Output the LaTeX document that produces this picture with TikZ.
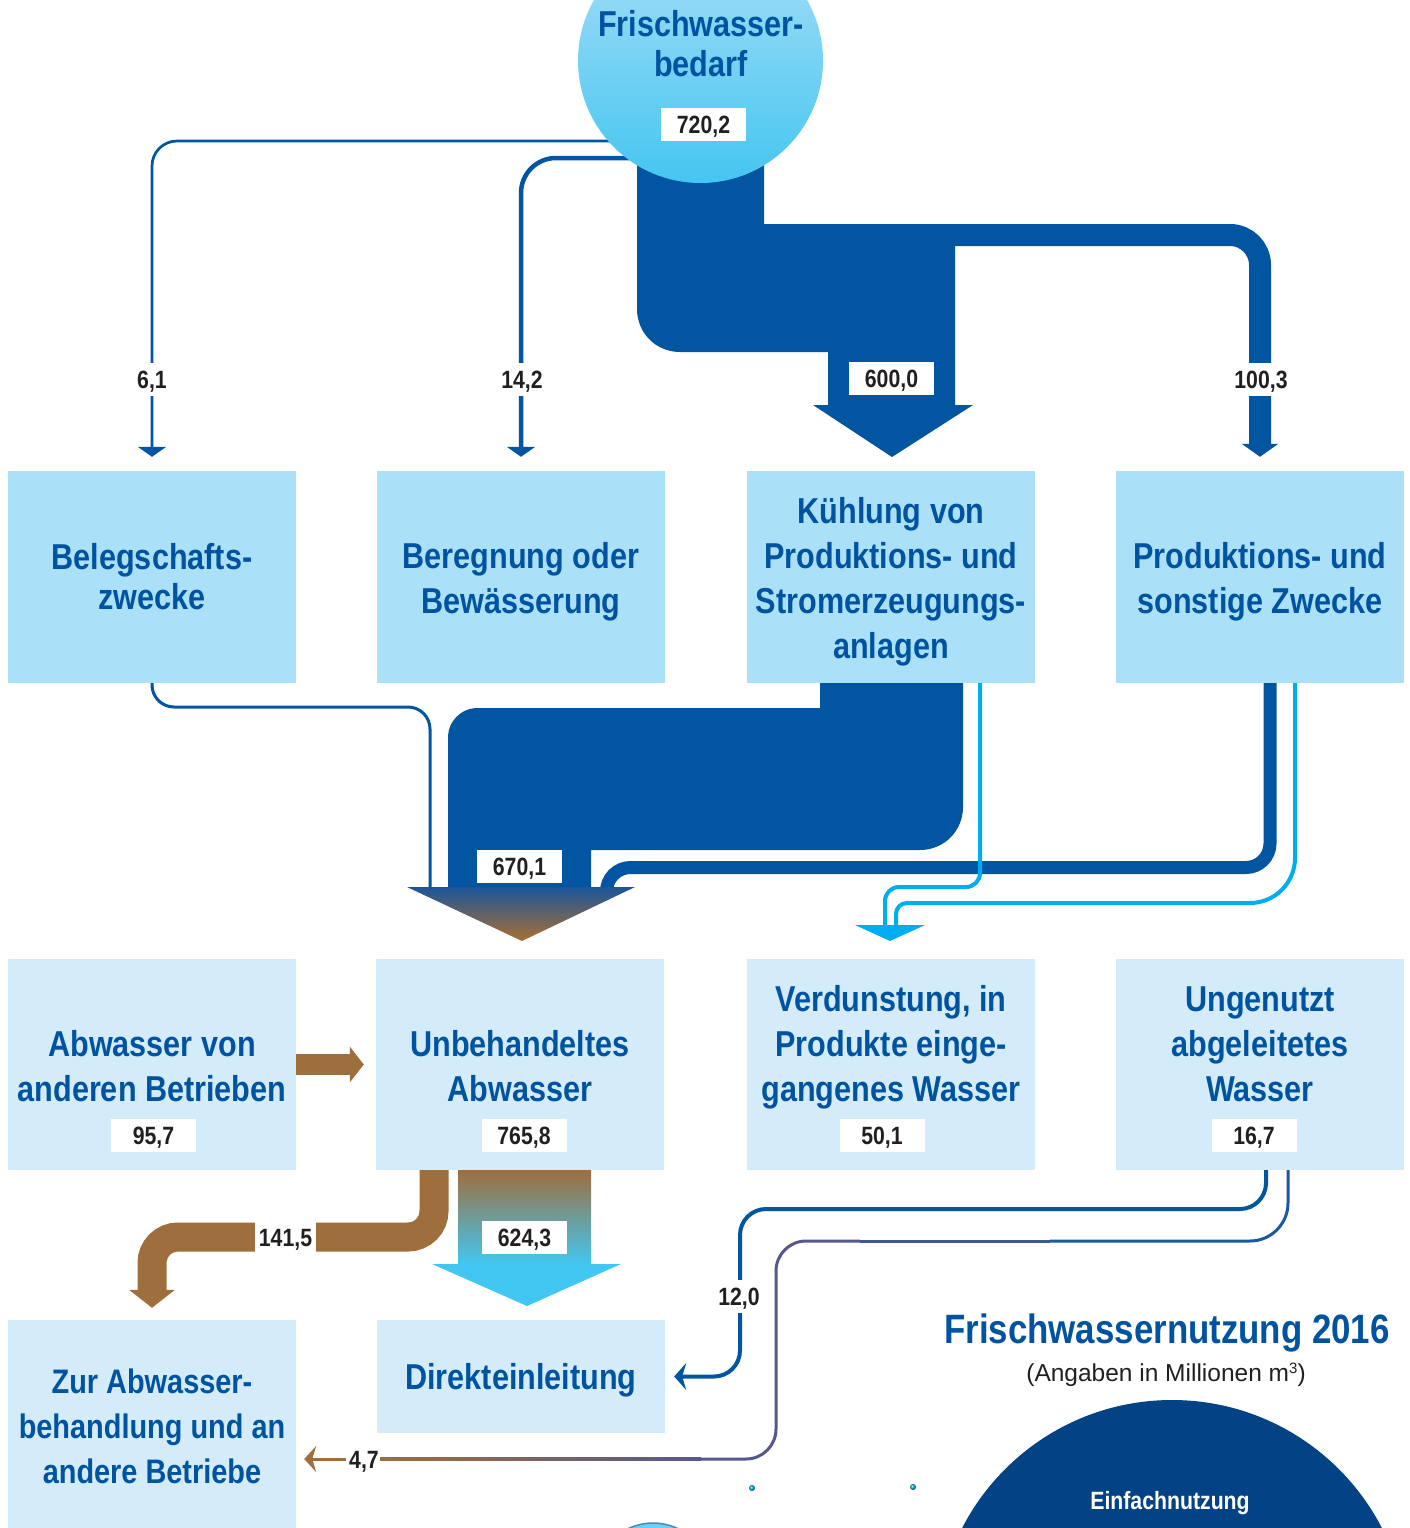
\documentclass[tikz,border=0pt]{standalone}
\usepackage{fontspec}
\setmainfont{Liberation Sans}
\newfontfamily\condf{Liberation Sans}[FakeStretch=0.85]
\usetikzlibrary{arrows.meta,calc}
\definecolor{flowblue}{HTML}{0255A0}
\definecolor{txtblue}{HTML}{0053A0}
\definecolor{boxAc}{HTML}{ABE0F9}
\definecolor{boxBc}{HTML}{D4ECFA}
\definecolor{brownf}{HTML}{9E6E3C}
\definecolor{cyanl}{HTML}{00AEEF}
\definecolor{cyanf}{HTML}{42C7F2}
\definecolor{circtop}{HTML}{A8DEF7}
\definecolor{circbot}{HTML}{44C6F0}
\definecolor{numblack}{HTML}{231F20}
\definecolor{darkcirc}{HTML}{034284}
\definecolor{slatea}{HTML}{1A58A0}
\definecolor{slateb}{HTML}{3E5896}
\definecolor{slatec}{HTML}{57588A}
\definecolor{headtop}{HTML}{1B5599}
\definecolor{headbot}{HTML}{A87034}
\tikzset{
  boxa/.style={fill=boxAc, inner sep=0pt, minimum width=288pt, minimum height=212pt},
  boxb/.style={fill=boxBc, inner sep=0pt, minimum width=288pt, minimum height=211pt},
  btxt/.style={text=txtblue, font=\condf\bfseries\fontsize{36}{45}\selectfont, anchor=base, inner sep=0pt},
  stxt/.style={btxt, font=\condf\bfseries\fontsize{34}{45}\selectfont},
  numtxt/.style={text=numblack, font=\condf\bfseries\fontsize{25}{30}\selectfont, text height=18pt, text depth=0pt},
  valbox/.style={numtxt, fill=white, inner sep=0pt, minimum width=85pt, minimum height=33pt},
  linelbl/.style={numtxt, fill=white, inner xsep=3pt, inner ysep=7.5pt},
}
\begin{document}
\begin{tikzpicture}[x=1pt,y=-1pt]
\useasboundingbox (0,0) rectangle (1410,1528);
\fill[white] (0,0) rectangle (1410,1528);
\clip (0,0) rectangle (1410,1528);

% ---------- boxes ----------
\node[boxa] (beleg)  at (152,577) {};
\node[boxa] (beregn) at (521,577) {};
\node[boxa] (kuehl)  at (891,577) {};
\node[boxa] (prod)   at (1260,577) {};
\node[boxb] (abw)    at (152,1064.5) {};
\node[boxb] (unbeh)  at (520,1064.5) {};
\node[boxb] (verd)   at (891,1064.5) {};
\node[boxb] (unge)   at (1260,1064.5) {};
\node[fill=boxBc, inner sep=0pt, minimum width=288pt, minimum height=230pt] (zur) at (152,1435) {};
\node[fill=boxBc, inner sep=0pt, minimum width=288pt, minimum height=113pt] (direkt) at (521,1376.5) {};

% ---------- flows from the source ----------
\coordinate (s61) at (650,141);
\coordinate (s142) at (650,158);
\draw[flowblue, line width=2.7pt, rounded corners=25pt, -{Triangle[width=28pt,length=10pt]}, shorten >=14pt] (s61) -| (beleg.north);
\draw[flowblue, line width=4.5pt, rounded corners=35pt, -{Triangle[width=28pt,length=10pt]}, shorten >=14pt] (s142) -| (beregn.north);
\draw[flowblue, line width=22pt, rounded corners=30pt, -{Triangle[width=36pt,length=13pt]}, shorten >=14pt] (900,235) -| (prod.north);
\fill[flowblue] (637,150) -- (764,150) -- (764,224) -- (955,224) -- (955,405) -- (973,405) -- (892,457) -- (813,405) -- (828,405) -- (828,352) -- (680,352) .. controls (656,352) and (637,333) .. (637,309) -- cycle;

% ---------- source circle ----------
\node[circle, minimum size=245pt, inner sep=0pt, top color=circtop, bottom color=circbot, draw=none] (bedarf) at (700.5,60.5) {};
\node[btxt] at (701,37) {Frischwasser-};
\node[btxt] at (701,77) {bedarf};
\node[valbox] (v720) at (703.5,124.5) {720,2};

\node[linelbl] (l61) at (152,379) {6,1};
\node[linelbl] (l142) at (522,379) {14,2};
\node[linelbl] (l1003) at (1261,379) {100,3};
\node[valbox] (v600) at (891.5,378.5) {600,0};

% ---------- row 1 texts ----------
\node[btxt] at (152,569) {Belegschafts-};
\node[btxt] at (152,609) {zwecke};
\node[btxt] at (521,568) {Beregnung oder};
\node[btxt] at (521,613) {Bewässerung};
\node[btxt] at (891,523) {Kühlung von};
\node[btxt] at (891,568) {Produktions- und};
\node[btxt] at (891,613) {Stromerzeugungs-};
\node[btxt] at (891,658) {anlagen};
\node[btxt] at (1260,568) {Produktions- und};
\node[btxt] at (1260,613) {sonstige Zwecke};

% ---------- return flows ----------
\draw[flowblue, line width=3pt, rounded corners=22pt] (beleg.south) |- (430,707) -- (430,887);
\fill[flowblue] (820,683) -- (963,683) -- (963,807) .. controls (963,831) and (944,850) .. (920,850) -- (591,850) -- (591,887) -- (448,887) -- (448,738) .. controls (448,721) and (461,708) .. (478,708) -- (820,708) -- cycle;
\draw[flowblue, line width=13pt, rounded corners=24pt] ($(prod.south)+(10,0)$) |- (606.5,867.5) -- (606.5,887);
\draw[cyanl, line width=4pt, rounded corners=14pt] ($(kuehl.south)+(89,0)$) -- (980,887) -- (885,887) -- (885,926);
\draw[cyanl, line width=4pt, rounded corners=45pt] ($(prod.south)+(35,0)$) -- (1295,903) -- (1000,903);
\draw[cyanl, line width=4pt, rounded corners=11pt] (1000,903) -- (896,903) -- (896,926);
\fill[cyanl] (855,925) -- (925,925) -- (890,941) -- cycle;
\shade[top color=headtop, bottom color=headbot] (407,887) -- (635,887) -- (522,941) -- cycle;
\node[valbox] (v670) at (519.5,866) {670,1};

% ---------- row 2 texts ----------
\node[btxt] at (152,1056) {Abwasser von};
\node[btxt] at (152,1101) {anderen Betrieben};
\node[valbox] (v957) at (153.5,1135.5) {95,7};
\node[btxt] at (520,1056) {Unbehandeltes};
\node[btxt] at (520,1101) {Abwasser};
\node[valbox] (v7658) at (524,1135.5) {765,8};
\node[btxt] at (891,1011) {Verdunstung, in};
\node[btxt] at (891,1056) {Produkte einge-};
\node[btxt] at (891,1101) {gangenes Wasser};
\node[valbox] (v501) at (882,1135.5) {50,1};
\node[btxt] at (1260,1011) {Ungenutzt};
\node[btxt] at (1260,1056) {abgeleitetes};
\node[btxt] at (1260,1101) {Wasser};
\node[valbox] (v167) at (1254,1135.5) {16,7};

\draw[brownf, line width=21pt, -{Triangle[width=35pt,length=14pt]}, shorten >=12pt] (abw.east) -- (unbeh.west);

% ---------- lower flows ----------
\draw[brownf, line width=29pt, rounded corners=26pt, -{Triangle[width=45pt,length=18pt]}, shorten >=12pt] ($(unbeh.south)+(-86,0)$) |- (152,1237) -- (zur.north);
\node[numtxt, fill=white, minimum width=61pt, minimum height=32pt, inner sep=0pt] (l1415) at (285.5,1237) {141,5};

\shade[top color=brownf, bottom color=cyanf] (458,1170) rectangle (591,1264);
\fill[cyanf] (432,1264) -- (621,1264) -- (527,1306) -- cycle;
\node[valbox] (v6243) at (524.5,1237.5) {624,3};

\draw[flowblue, line width=4pt, rounded corners=26pt, -{Stealth[width=27pt,length=12pt,inset=4pt]}, shorten >=9pt] ($(unge.south)+(6,0)$) |- (740,1209) -- (740,1376.5) -- (direkt.east);
\node[linelbl] (l120) at (739,1296) {12,0};

\draw[slatea, line width=3pt, rounded corners=38pt] ($(unge.south)+(28,0)$) |- (1050,1241);
\draw[slateb, line width=3pt] (1050,1241) -- (860,1241);
\draw[slatec, line width=3pt, rounded corners=30pt] (860,1241) -- (776,1241) -- (776,1459) -- (700,1459);
\shade[left color=brownf, right color=slatec] (380,1457.5) rectangle (701,1460.5);
\node[numtxt, inner xsep=3.5pt, inner ysep=0pt] (l47) at (364,1459) {4,7};
\draw[brownf, line width=3pt, -{Stealth[width=26pt,length=12pt,inset=4pt]}, shorten >=8pt] (l47.west) -- (zur.east |- l47.west);

% ---------- row 3 texts ----------
\node[stxt] at (152,1393) {Zur Abwasser-};
\node[stxt] at (152,1438) {behandlung und an};
\node[stxt] at (152,1483) {andere Betriebe};
\node[btxt] at (521,1389) {Direkteinleitung};

% ---------- title and legend ----------
\node[anchor=base, inner sep=0pt, text=txtblue, font=\condf\bfseries\fontsize{41}{49}\selectfont] (title) at (1167,1343) {Frischwassernutzung 2016};
\node[anchor=base, inner sep=0pt, text=numblack, font=\fontsize{24.5}{29}\selectfont] (subtitle) at (1166,1381) {(Angaben in Millionen m\raisebox{8pt}{\fontsize{15}{15}\selectfont 3})};
\fill[darkcirc] (1172,1636) circle (236);
\node[anchor=base, inner sep=0pt, text=white, font=\condf\bfseries\fontsize{25}{30}\selectfont] (einfach) at (1170,1509) {Einfachnutzung};
\shade[ball color=cyanl] (752,1488) circle (3);
\shade[ball color=cyanl] (913,1487) circle (3);
\fill[cyanf!80!white] (653,1581) circle (58);
\draw[flowblue!70, line width=1.5pt] (653,1581) circle (58);
\end{tikzpicture}
\end{document}
